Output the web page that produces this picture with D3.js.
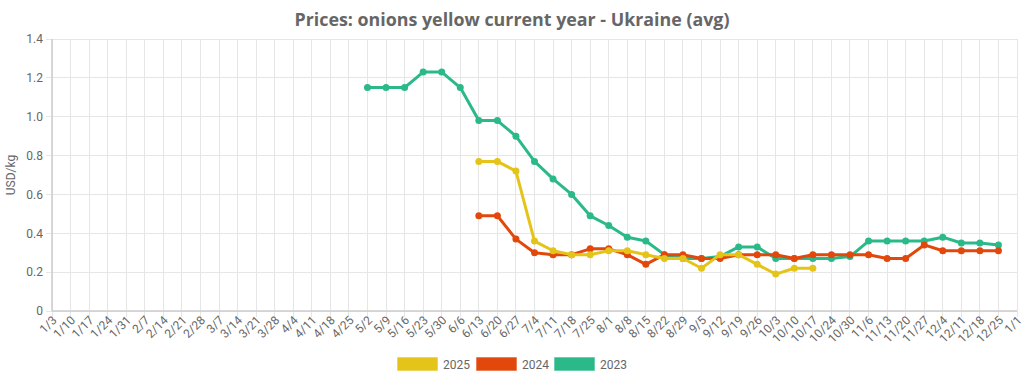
<!DOCTYPE html>
<html><head><meta charset="utf-8">
<script src="https://cdn.jsdelivr.net/npm/d3@7"></script>
<style>
html,body{margin:0;padding:0;background:#fff;}
svg{display:block;}
</style></head>
<body>
<svg id="chart" width="1024" height="379"></svg>
<script>
const categories = ["1/3","1/10","1/17","1/24","1/31","2/7","2/14","2/21","2/28","3/7","3/14","3/21","3/28","4/4","4/11","4/18","4/25","5/2","5/9","5/16","5/23","5/30","6/6","6/13","6/20","6/27","7/4","7/11","7/18","7/25","8/1","8/8","8/15","8/22","8/29","9/5","9/12","9/19","9/26","10/3","10/10","10/17","10/24","10/30","11/6","11/13","11/20","11/27","12/4","12/11","12/18","12/25","1/1"];
// values start at the given category
const start2025 = "6/13";
const values2025 = [0.77,0.77,0.72,0.36,0.31,0.29,0.29,0.31,0.31,0.29,0.27,0.27,0.22,0.29,0.29,0.24,0.19,0.22,0.22];
const start2024 = "6/13";
const values2024 = [0.49,0.49,0.37,0.30,0.29,0.29,0.32,0.32,0.29,0.24,0.29,0.29,0.27,0.27,0.29,0.29,0.29,0.27,0.29,0.29,0.29,0.29,0.27,0.27,0.34,0.31,0.31,0.31,0.31];
const start2023 = "5/2";
const values2023 = [1.15,1.15,1.15,1.23,1.23,1.15,0.98,0.98,0.90,0.77,0.68,0.60,0.49,0.44,0.38,0.36,0.29,0.27,0.27,0.28,0.33,0.33,0.27,0.27,0.27,0.27,0.28,0.36,0.36,0.36,0.36,0.38,0.35,0.35,0.34];
const yTicks = [0,0.2,0.4,0.6,0.8,1.0,1.2,1.4];
const seriesNames = ["2025","2024","2023"];
const seriesColors = ["#e5c419","#e2480b","#2bb98a"];

const svg = d3.select("#chart");
const W = 1024, H = 379;
const m = {left:52, right:7, top:39, bottom:68};
const x = d3.scalePoint().domain(categories).range([m.left, W - m.right]);
const y = d3.scaleLinear().domain([0,1.4]).range([H - m.bottom, m.top]);

// gridlines
const gx = svg.append("g");
gx.selectAll("line.v").data(categories).join("line")
  .attr("x1", d=>x(d)).attr("x2", d=>x(d))
  .attr("y1", y(1.4)).attr("y2", y(0)+6)
  .attr("stroke","#e6e6e6").attr("stroke-width",1).attr("shape-rendering","crispEdges");
gx.selectAll("line.h").data(yTicks).join("line")
  .attr("x1", m.left-6).attr("x2", W - m.right)
  .attr("y1", d=>y(d)).attr("y2", d=>y(d))
  .attr("stroke","#e6e6e6").attr("stroke-width",1).attr("shape-rendering","crispEdges");

// axes lines
svg.append("line").attr("x1",m.left).attr("x2",m.left).attr("y1",y(1.4)).attr("y2",y(0))
  .attr("stroke","#cccccc").attr("stroke-width",1.5);
svg.append("line").attr("x1",m.left).attr("x2",W-m.right).attr("y1",y(0)).attr("y2",y(0))
  .attr("stroke","#cccccc").attr("stroke-width",1.5);

const fontAxis = "Roboto, 'Liberation Sans', sans-serif";
// y axis labels
const yAxis = d3.axisLeft(y).tickValues(yTicks).tickSize(0).tickPadding(9)
  .tickFormat(d => d===0 ? "0" : d3.format(".1f")(d));
const ya = svg.append("g").attr("transform",`translate(${m.left},0)`).call(yAxis);
ya.select(".domain").remove();
ya.selectAll("text").attr("fill","#666").style("font-family",fontAxis).style("font-size","12px");

// x axis labels
const xAxis = d3.axisBottom(x).tickSize(0).tickPadding(0);
const xa = svg.append("g").attr("transform",`translate(0,${y(0)})`).call(xAxis);
xa.select(".domain").remove();
xa.selectAll("text")
  .attr("fill","#666").style("font-family",fontAxis).style("font-size","12px")
  .attr("text-anchor","end").attr("dy",null).attr("y",0)
  .attr("transform","translate(5,10) rotate(-45)");

// y title
svg.append("text").attr("transform",`translate(15,${(y(0)+y(1.4))/2}) rotate(-90)`)
  .attr("text-anchor","middle").attr("fill","#666")
  .style("font-family",fontAxis).style("font-size","12px").text("USD/kg");

// title
const title = svg.append("text").attr("x",W/2).attr("y",26).attr("text-anchor","middle")
  .attr("fill","#666").style("font-family","'Open Sans', sans-serif").style("font-weight","700")
  .style("font-size","17px").text("Prices: onions yellow current year - Ukraine (avg)");
const tw = title.node().getComputedTextLength();
title.style("font-size", (17*435/tw).toFixed(2)+"px");

// series
const series = [
  {name:seriesNames[2], start:start2023, vals:values2023, color:seriesColors[2]},
  {name:seriesNames[1], start:start2024, vals:values2024, color:seriesColors[1]},
  {name:seriesNames[0], start:start2025, vals:values2025, color:seriesColors[0]},
];
const line = d3.line().x(d=>x(d.c)).y(d=>y(d.v));
series.forEach(s => {
  const si = categories.indexOf(s.start);
  const pts = s.vals.map((v,i)=>({c:categories[si+i], v}));
  const g = svg.append("g");
  g.append("path").datum(pts).attr("d",line).attr("fill","none")
    .attr("stroke",s.color).attr("stroke-width",3).attr("stroke-linejoin","round");
  g.selectAll("circle").data(pts).join("circle")
    .attr("cx",d=>x(d.c)).attr("cy",d=>y(d.v)).attr("r",3.5).attr("fill",s.color);
});

// legend
const legendX = [397, 476, 554];
const lg = svg.append("g");
seriesNames.forEach((n,i)=>{
  lg.append("rect").attr("x",legendX[i]).attr("y",357).attr("width",41).attr("height",14)
    .attr("fill",seriesColors[i]).attr("stroke","#ffffff").attr("stroke-opacity",0.6).attr("stroke-width",1);
  lg.append("text").attr("x",legendX[i]+46).attr("y",368.5).attr("fill","#666")
    .style("font-family",fontAxis).style("font-size","12px").text(n);
});
</script>
</body></html>
